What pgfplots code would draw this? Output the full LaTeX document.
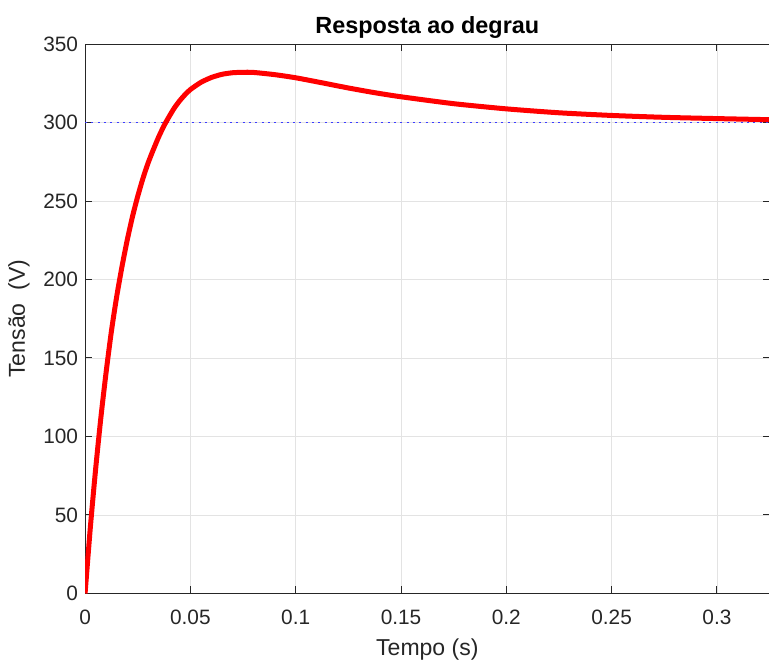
\documentclass[border=0pt]{standalone}
\usepackage{fontspec}
\setmainfont{Liberation Sans}
\usepackage{pgfplots}
\pgfplotsset{compat=1.18}
\usetikzlibrary{calc}
\definecolor{axgray}{RGB}{38,38,38}
\definecolor{stepred}{RGB}{255,0,0}
\definecolor{refblue}{RGB}{60,60,255}

\begin{document}
\begin{tikzpicture}
\begin{axis}[
    name=ax,
    scale only axis,
    width=342pt, height=274.5pt,
    xmin=0, xmax=0.325,
    ymin=0, ymax=350,
    xtick={0,0.05,0.1,0.15,0.2,0.25,0.3},
    xticklabels={0,0.05,0.1,0.15,0.2,0.25,0.3},
    ytick={0,50,100,150,200,250,300,350},
    grid=major,
    major grid style={black!11, line width=0.4pt},
    axis line style={axgray, line width=0.5pt},
    tick style={axgray, line width=0.5pt},
    major tick length=3.5pt,
    tick align=inside,
    /pgf/number format/assume math mode=true,
    tick label style={font=\fontsize{10.4}{12}\selectfont, text=axgray},
    xticklabel style={yshift=-4.5pt},
    title={Resposta ao degrau},
    title style={font=\bfseries\fontsize{11.7}{13}\selectfont, yshift=-7pt},
    xlabel={Tempo (s)},
    ylabel={Tensão~~(V)},
    label style={font=\fontsize{11.5}{13}\selectfont, text=axgray},
    xlabel style={yshift=-0.5pt},
]
  % referência de 300 V
  \addplot[refblue, line width=0.6pt, dash pattern=on 1pt off 2.15pt]
  coordinates {(0,300)(0.325,300)};
  % resposta ao degrau
  \addplot[stepred, line width=2.5pt, smooth, tension=0.4]
  coordinates {
    (0,0)(0.0025,42)(0.005,79)(0.0075,112)(0.01,141)(0.0125,167)
    (0.015,189)(0.0175,208)(0.02,225)(0.0225,240)(0.025,253)
    (0.0275,264.5)(0.03,274.5)(0.0325,283)(0.035,291)(0.0375,298)
    (0.04,304)(0.0425,309.5)(0.045,314)(0.0475,317.8)(0.05,321)
    (0.055,325.6)(0.06,328.7)(0.065,330.7)(0.07,331.7)(0.075,332)
    (0.08,331.9)(0.09,330.5)(0.1,328.5)(0.1125,325.3)(0.125,322)
    (0.1375,319)(0.15,316.4)(0.175,312)(0.2,308.7)(0.225,306.2)
    (0.25,304.5)(0.275,303.3)(0.3,302.5)(0.325,301.8)
  };
\end{axis}
\pgfresetboundingbox
\path ($(ax.south west)+(-42.5pt,-33.5pt)$) rectangle ($(ax.north east)+(-0.3pt,22pt)$);
\end{tikzpicture}
\end{document}
